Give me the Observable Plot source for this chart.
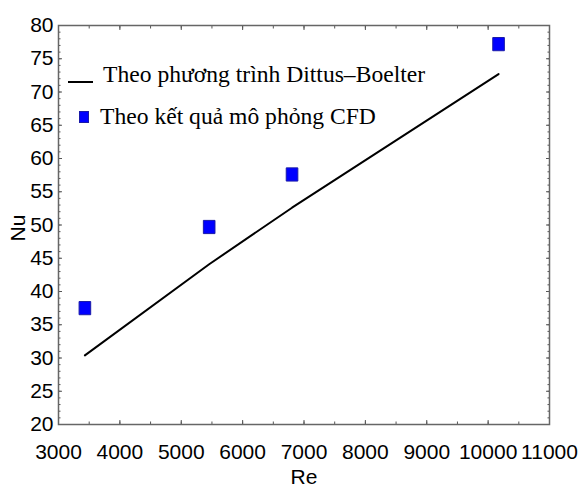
<!DOCTYPE html>
<html><head><meta charset="utf-8">
<script src="https://cdn.jsdelivr.net/npm/d3@7"></script>
<script src="https://cdn.jsdelivr.net/npm/@observablehq/plot@0.6"></script>
<style>
body{margin:0;background:#fff;}
#wrap{position:relative;width:580px;height:491px;}
.leg{position:absolute;font-family:"Liberation Serif","Times New Roman",serif;font-size:23.6px;color:#000;white-space:nowrap;line-height:1;}
.legline{position:absolute;height:0;border-top:2px solid #000;}
.legsq{position:absolute;background:#0000ff;border:1px solid #1a1aa8;box-sizing:border-box;}
</style></head><body><div id="wrap"></div>
<script>
// Data
const re = [3430, 5455, 6805, 10170];
const nuCFD = [37.5, 49.7, 57.6, 77.2];
const nuDittus = [30.4, 44.1, 52.6, 72.7];
const xTickLabels = [3000, 4000, 5000, 6000, 7000, 8000, 9000, 10000, 11000];
const yTickLabels = [20, 25, 30, 35, 40, 45, 50, 55, 60, 65, 70, 75, 80];
const legendLabels = ["Theo phương trình Dittus–Boelter", "Theo kết quả mô phỏng CFD"];
const xLabel = "Re";
const yLabel = "Nu";

const xMinor = d3.range(3000, 11001, 500);
const yMinor = d3.range(20, 80.1, 1);

const rows = re.map((r, i) => ({re: r, cfd: nuCFD[i], db: nuDittus[i]}));

const rectSymbol = {
  draw(ctx, size) {
    const r = Math.sqrt(size / Math.PI);
    const w = r * 0.88, h = r;
    ctx.moveTo(-w, -h); ctx.lineTo(w, -h); ctx.lineTo(w, h); ctx.lineTo(-w, h); ctx.closePath();
  }
};

const tickColor = "#555";
const noText = () => "";

const chart = Plot.plot({
  width: 580,
  height: 491,
  marginLeft: 58,
  marginRight: 31,
  marginTop: 25,
  marginBottom: 67,
  style: {fontFamily: "'Liberation Sans', Arial, sans-serif", fontSize: "21px", color: "#000", background: "#fff"},
  x: {domain: [3000, 11000]},
  y: {domain: [20, 80]},
  marks: [
    Plot.axisX(xMinor, {anchor: "bottom", tickSize: -2.5, tickFormat: noText, label: null, stroke: tickColor}),
    Plot.axisX(xTickLabels, {anchor: "bottom", tickSize: -4, tickFormat: noText, label: null, stroke: tickColor}),
    Plot.axisX(xMinor, {anchor: "top", tickSize: -2.5, tickFormat: noText, label: null, stroke: tickColor}),
    Plot.axisX(xTickLabels, {anchor: "top", tickSize: -4, tickFormat: noText, label: null, stroke: tickColor}),
    Plot.axisY(yMinor, {anchor: "left", tickSize: -2.5, tickFormat: noText, label: null, stroke: tickColor}),
    Plot.axisY(yTickLabels, {anchor: "left", tickSize: -4, tickFormat: noText, label: null, stroke: tickColor}),
    Plot.axisY(yMinor, {anchor: "right", tickSize: -2.5, tickFormat: noText, label: null, stroke: tickColor}),
    Plot.axisY(yTickLabels, {anchor: "right", tickSize: -4, tickFormat: noText, label: null, stroke: tickColor}),
    Plot.axisX(xTickLabels, {anchor: "bottom", tickSize: 0, tickPadding: 20, tickFormat: d => String(d), label: null, fill: "#000"}),
    Plot.axisY(yTickLabels, {anchor: "left", tickSize: 0, tickPadding: 5, tickFormat: d => String(d), label: null, fill: "#000"}),
    Plot.frame({stroke: "#666", strokeWidth: 1.5}),
    Plot.line(rows, {x: "re", y: "db", stroke: "#000", strokeWidth: 2}),
    Plot.dot(rows, {x: "re", y: "cfd", symbol: rectSymbol, r: 6.6, fill: "#0000ff", stroke: "#1a1aa8", strokeWidth: 1}),
    Plot.text([xLabel], {frameAnchor: "bottom", dy: 59, fontSize: 21, fill: "#000"}),
    Plot.text([yLabel], {frameAnchor: "left", textAnchor: "middle", dx: -40, dy: 3, rotate: -90, fontSize: 21, fill: "#000"})
  ]
});

const wrap = document.getElementById("wrap");
wrap.appendChild(chart);

const line = document.createElement("div");
line.className = "legline";
Object.assign(line.style, {left: "68px", top: "81px", width: "25px"});
wrap.appendChild(line);
const sq = document.createElement("div");
sq.className = "legsq";
Object.assign(sq.style, {left: "79px", top: "111px", width: "10px", height: "12px"});
wrap.appendChild(sq);
legendLabels.forEach((t, i) => {
  const d = document.createElement("div");
  d.className = "leg";
  d.textContent = t;
  Object.assign(d.style, {left: (i === 0 ? 103 : 100) + "px", top: (i === 0 ? 63 : 105) + "px"});
  wrap.appendChild(d);
});
</script></body></html>
